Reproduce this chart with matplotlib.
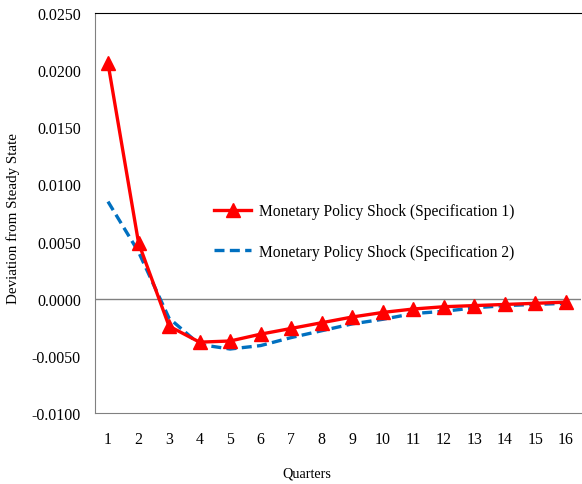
import numpy as np
import matplotlib
matplotlib.use('Agg')
import matplotlib.pyplot as plt

quarters = np.arange(1, 17)
spec1 = [0.0206, 0.0049, -0.0024, -0.0038, -0.0037, -0.0031, -0.0026, -0.0021,
         -0.0016, -0.0012, -0.0009, -0.0007, -0.0006, -0.0005, -0.0004, -0.0003]
spec2 = [0.0085, 0.0041, -0.0017, -0.0040, -0.0044, -0.0041, -0.0034, -0.0028,
         -0.0022, -0.0018, -0.0013, -0.0011, -0.0008, -0.0006, -0.0005, -0.0004]

plt.rcParams['font.family'] = ['Liberation Serif', 'DejaVu Serif']

fig = plt.figure(figsize=(5.82, 4.85), dpi=100)
ax = fig.add_axes([0.163, 0.1464, 0.835, 0.8246])

ax.axhline(0, color='#808080', lw=1, zorder=1)
ax.plot(quarters, spec1, color='#ff0000', lw=2.4, marker='^', markersize=10,
        label='Monetary Policy Shock (Specification 1)', zorder=3)
ax.plot(quarters, spec2, color='#0070c0', lw=2.4, ls=(0, (3, 1.6)),
        label='Monetary Policy Shock (Specification 2)', zorder=2)

ax.set_xlim(0.57, 16.49)
ax.set_ylim(-0.01, 0.025)
ax.set_xticks(quarters)
ax.set_yticks(np.arange(-0.01, 0.0251, 0.005))
ax.yaxis.set_major_formatter(matplotlib.ticker.FormatStrFormatter('%.4f'))
ax.tick_params(axis='both', length=0, labelsize=11.4)
ax.tick_params(axis='y', pad=10)
ax.tick_params(axis='x', pad=13)

for s in ['left', 'bottom']:
    ax.spines[s].set_color('#808080')
ax.spines['top'].set_color('black')
ax.spines['right'].set_visible(False)

ax.set_xlabel('Quarters', fontsize=10.2)
ax.xaxis.set_label_coords(0.437, -0.135)
ax.set_ylabel('Deviation from Steady State', fontsize=10.8)
ax.yaxis.set_label_coords(-0.154, 0.49)

ax.legend(loc='upper left', bbox_to_anchor=(0.216, 0.56), frameon=False,
          fontsize=11.2, handlelength=2.4, labelspacing=1.6, handletextpad=0.5)

fig.savefig('out.png', dpi=100)
